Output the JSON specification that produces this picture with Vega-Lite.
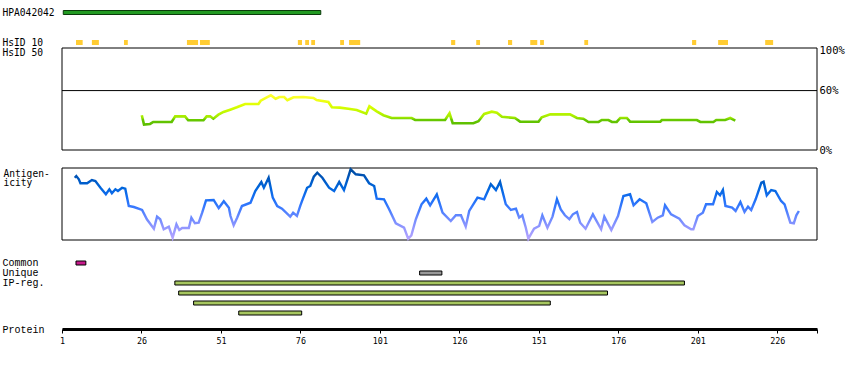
{
  "$schema": "https://vega.github.io/schema/vega-lite/v6.json",
  "width": 755,
  "height": 329,
  "autosize": {"type": "none"},
  "padding": {"left": 62, "top": 0, "right": 33, "bottom": 41},
  "config": {"view": {"stroke": null}, "font": "DejaVu Sans Mono", "axis": {"grid": false}},
  "datasets": {
    "antibody": [{"name": "HPA042042", "start": 1.4, "end": 82.4}],
    "hsid": [
      {"row": "HsID 10", "start": 5.4, "end": 7.5},
      {"row": "HsID 10", "start": 10.4, "end": 12.6},
      {"row": "HsID 10", "start": 20.5, "end": 21.7},
      {"row": "HsID 10", "start": 40.3, "end": 43.8},
      {"row": "HsID 10", "start": 44.4, "end": 47.5},
      {"row": "HsID 10", "start": 75.2, "end": 76.5},
      {"row": "HsID 10", "start": 77.5, "end": 78.7},
      {"row": "HsID 10", "start": 79.4, "end": 80.6},
      {"row": "HsID 10", "start": 88.5, "end": 89.7},
      {"row": "HsID 10", "start": 91.3, "end": 94.8},
      {"row": "HsID 10", "start": 123.4, "end": 124.7},
      {"row": "HsID 10", "start": 131.3, "end": 132.5},
      {"row": "HsID 10", "start": 141.3, "end": 142.6},
      {"row": "HsID 10", "start": 148.3, "end": 150.5},
      {"row": "HsID 10", "start": 151.4, "end": 152.6},
      {"row": "HsID 10", "start": 165.3, "end": 166.5},
      {"row": "HsID 10", "start": 199.2, "end": 200.5},
      {"row": "HsID 10", "start": 207.4, "end": 210.5},
      {"row": "HsID 10", "start": 222.2, "end": 224.7}
    ],
    "identity": [
      {"residue": 26.1, "identity": 35.1}, {"residue": 26.8, "identity": 25.6}, {"residue": 28.7, "identity": 26.3},
      {"residue": 29.7, "identity": 28.3}, {"residue": 35.5, "identity": 28.3}, {"residue": 36.6, "identity": 34.0},
      {"residue": 39.7, "identity": 34.0}, {"residue": 40.7, "identity": 30.0}, {"residue": 45.5, "identity": 30.0},
      {"residue": 46.5, "identity": 34.0}, {"residue": 47.6, "identity": 34.0}, {"residue": 48.6, "identity": 31.6},
      {"residue": 50.2, "identity": 35.7}, {"residue": 51.8, "identity": 38.4}, {"residue": 53.9, "identity": 40.7},
      {"residue": 56.0, "identity": 43.1}, {"residue": 58.6, "identity": 46.5}, {"residue": 62.8, "identity": 46.5},
      {"residue": 63.5, "identity": 49.8}, {"residue": 65.4, "identity": 53.2}, {"residue": 66.7, "identity": 55.3},
      {"residue": 68.2, "identity": 51.8}, {"residue": 69.4, "identity": 53.5}, {"residue": 70.9, "identity": 53.5},
      {"residue": 71.9, "identity": 50.2}, {"residue": 73.8, "identity": 53.2}, {"residue": 76.9, "identity": 53.5},
      {"residue": 80.1, "identity": 52.5}, {"residue": 81.1, "identity": 50.5}, {"residue": 84.8, "identity": 48.5},
      {"residue": 85.9, "identity": 43.1}, {"residue": 88.4, "identity": 42.8}, {"residue": 91.1, "identity": 41.7},
      {"residue": 93.7, "identity": 40.4}, {"residue": 96.7, "identity": 36.7}, {"residue": 97.7, "identity": 44.1},
      {"residue": 100.0, "identity": 39.1}, {"residue": 102.1, "identity": 35.1}, {"residue": 104.7, "identity": 32.3},
      {"residue": 111.0, "identity": 32.3}, {"residue": 112.1, "identity": 30.3}, {"residue": 121.5, "identity": 30.3},
      {"residue": 122.9, "identity": 37.1}, {"residue": 123.9, "identity": 27.0}, {"residue": 130.4, "identity": 27.0},
      {"residue": 132.0, "identity": 29.0}, {"residue": 133.8, "identity": 36.4}, {"residue": 136.2, "identity": 38.7},
      {"residue": 137.8, "identity": 37.7}, {"residue": 139.4, "identity": 33.6}, {"residue": 143.5, "identity": 32.3},
      {"residue": 145.1, "identity": 28.6}, {"residue": 150.9, "identity": 28.6}, {"residue": 151.9, "identity": 33.0},
      {"residue": 154.6, "identity": 36.0}, {"residue": 160.8, "identity": 36.0}, {"residue": 163.0, "identity": 32.3},
      {"residue": 165.0, "identity": 31.6}, {"residue": 166.6, "identity": 28.3}, {"residue": 169.8, "identity": 28.3},
      {"residue": 170.8, "identity": 30.3}, {"residue": 172.9, "identity": 30.3}, {"residue": 174.0, "identity": 28.3},
      {"residue": 175.5, "identity": 28.3}, {"residue": 176.6, "identity": 32.3}, {"residue": 178.7, "identity": 32.3},
      {"residue": 179.7, "identity": 28.6}, {"residue": 189.2, "identity": 28.6}, {"residue": 189.7, "identity": 30.3},
      {"residue": 200.7, "identity": 30.3}, {"residue": 201.8, "identity": 28.3}, {"residue": 205.9, "identity": 28.3},
      {"residue": 206.8, "identity": 30.3}, {"residue": 209.6, "identity": 30.3}, {"residue": 211.2, "identity": 32.3},
      {"residue": 212.8, "identity": 29.6}
    ],
    "antigenicity": [
      {"residue": 5.0, "score": 86.5}, {"residue": 5.5, "score": 88.9}, {"residue": 6.3, "score": 84.3}, {"residue": 6.8, "score": 78.8},
      {"residue": 8.9, "score": 78.8}, {"residue": 10.4, "score": 83.3}, {"residue": 11.5, "score": 81.9}, {"residue": 13.1, "score": 72.6},
      {"residue": 14.8, "score": 63.5}, {"residue": 15.9, "score": 70.4}, {"residue": 16.7, "score": 64.9}, {"residue": 17.8, "score": 70.4},
      {"residue": 18.6, "score": 68.1}, {"residue": 19.9, "score": 72.6}, {"residue": 20.9, "score": 71.3}, {"residue": 22.0, "score": 47.2},
      {"residue": 23.6, "score": 45.8}, {"residue": 26.2, "score": 41.7}, {"residue": 27.7, "score": 28.8}, {"residue": 29.9, "score": 15.7},
      {"residue": 30.9, "score": 32.4}, {"residue": 31.9, "score": 28.8}, {"residue": 33.0, "score": 14.9}, {"residue": 34.6, "score": 18.5},
      {"residue": 35.8, "score": 3.2}, {"residue": 37.0, "score": 21.8}, {"residue": 37.9, "score": 13.9}, {"residue": 38.8, "score": 16.7},
      {"residue": 40.9, "score": 16.7}, {"residue": 41.7, "score": 31.0}, {"residue": 42.8, "score": 23.2}, {"residue": 44.0, "score": 24.0},
      {"residue": 45.1, "score": 37.9}, {"residue": 46.3, "score": 55.1}, {"residue": 48.7, "score": 55.6}, {"residue": 50.3, "score": 44.4},
      {"residue": 51.9, "score": 53.8}, {"residue": 53.5, "score": 44.9}, {"residue": 54.0, "score": 33.3}, {"residue": 55.0, "score": 20.4},
      {"residue": 56.1, "score": 31.0}, {"residue": 57.6, "score": 47.2}, {"residue": 60.3, "score": 51.8}, {"residue": 61.8, "score": 68.1},
      {"residue": 63.7, "score": 80.6}, {"residue": 64.5, "score": 72.6}, {"residue": 66.0, "score": 86.5}, {"residue": 67.3, "score": 58.8},
      {"residue": 68.7, "score": 47.2}, {"residue": 70.2, "score": 43.5}, {"residue": 72.8, "score": 32.4}, {"residue": 73.7, "score": 37.9},
      {"residue": 74.9, "score": 33.3}, {"residue": 76.0, "score": 48.2}, {"residue": 76.7, "score": 56.5}, {"residue": 78.1, "score": 72.6},
      {"residue": 79.1, "score": 75.0}, {"residue": 80.2, "score": 87.9}, {"residue": 81.3, "score": 93.5}, {"residue": 82.9, "score": 86.5},
      {"residue": 85.0, "score": 72.6}, {"residue": 86.6, "score": 68.1}, {"residue": 88.2, "score": 80.6}, {"residue": 89.7, "score": 69.4},
      {"residue": 90.8, "score": 84.3}, {"residue": 91.8, "score": 98.2}, {"residue": 93.4, "score": 91.3}, {"residue": 96.0, "score": 89.9},
      {"residue": 97.6, "score": 78.8}, {"residue": 99.2, "score": 75.0}, {"residue": 100.0, "score": 57.4}, {"residue": 102.3, "score": 56.5},
      {"residue": 103.9, "score": 42.6}, {"residue": 106.0, "score": 23.2}, {"residue": 108.6, "score": 17.1}, {"residue": 109.9, "score": 1.8},
      {"residue": 110.9, "score": 6.5}, {"residue": 112.3, "score": 28.8}, {"residue": 114.1, "score": 49.6}, {"residue": 115.6, "score": 57.4},
      {"residue": 116.8, "score": 48.2}, {"residue": 118.9, "score": 63.5}, {"residue": 120.7, "score": 37.9}, {"residue": 123.3, "score": 26.4},
      {"residue": 124.9, "score": 34.3}, {"residue": 126.5, "score": 34.3}, {"residue": 128.0, "score": 18.5}, {"residue": 129.1, "score": 40.3},
      {"residue": 131.7, "score": 58.8}, {"residue": 133.8, "score": 56.5}, {"residue": 135.9, "score": 77.4}, {"residue": 137.5, "score": 69.4},
      {"residue": 138.8, "score": 80.6}, {"residue": 140.6, "score": 49.6}, {"residue": 142.2, "score": 41.7}, {"residue": 143.8, "score": 43.5},
      {"residue": 144.8, "score": 31.0}, {"residue": 145.8, "score": 34.3}, {"residue": 146.9, "score": 17.1}, {"residue": 147.7, "score": 1.8},
      {"residue": 149.5, "score": 15.7}, {"residue": 151.1, "score": 19.4}, {"residue": 152.1, "score": 34.3}, {"residue": 153.7, "score": 17.1},
      {"residue": 155.3, "score": 32.4}, {"residue": 156.7, "score": 56.5}, {"residue": 157.9, "score": 42.6}, {"residue": 159.2, "score": 34.3},
      {"residue": 160.6, "score": 28.8}, {"residue": 161.7, "score": 35.7}, {"residue": 163.0, "score": 38.9}, {"residue": 164.0, "score": 24.0},
      {"residue": 165.7, "score": 15.7}, {"residue": 168.0, "score": 35.7}, {"residue": 170.6, "score": 14.9}, {"residue": 171.6, "score": 32.4},
      {"residue": 173.8, "score": 13.9}, {"residue": 175.9, "score": 33.3}, {"residue": 177.6, "score": 61.1}, {"residue": 179.7, "score": 63.5},
      {"residue": 180.8, "score": 48.2}, {"residue": 182.7, "score": 56.5}, {"residue": 184.8, "score": 51.0}, {"residue": 186.7, "score": 25.0},
      {"residue": 188.4, "score": 31.0}, {"residue": 190.0, "score": 34.3}, {"residue": 190.7, "score": 48.2}, {"residue": 192.6, "score": 35.7},
      {"residue": 195.2, "score": 29.6}, {"residue": 196.8, "score": 20.4}, {"residue": 198.9, "score": 14.9}, {"residue": 199.6, "score": 14.9},
      {"residue": 201.0, "score": 33.3}, {"residue": 202.6, "score": 37.9}, {"residue": 203.6, "score": 49.6}, {"residue": 205.8, "score": 49.6},
      {"residue": 207.0, "score": 66.7}, {"residue": 208.0, "score": 62.1}, {"residue": 208.9, "score": 69.4}, {"residue": 209.7, "score": 47.2},
      {"residue": 211.8, "score": 44.9}, {"residue": 212.9, "score": 40.3}, {"residue": 214.4, "score": 52.8}, {"residue": 215.7, "score": 38.9},
      {"residue": 216.8, "score": 46.3}, {"residue": 217.8, "score": 41.7}, {"residue": 219.2, "score": 56.5}, {"residue": 221.0, "score": 79.6},
      {"residue": 221.7, "score": 81.0}, {"residue": 222.7, "score": 62.1}, {"residue": 224.1, "score": 69.4}, {"residue": 225.4, "score": 68.1},
      {"residue": 227.2, "score": 54.2}, {"residue": 228.3, "score": 49.6}, {"residue": 230.1, "score": 24.0}, {"residue": 231.2, "score": 23.2},
      {"residue": 232.0, "score": 34.3}, {"residue": 232.8, "score": 40.3}
    ],
    "features": [
      {"row": "Common", "kind": "Common", "start": 5.4, "end": 8.5},
      {"row": "Unique", "kind": "Unique", "start": 113.5, "end": 120.5},
      {"row": "IP-reg.", "kind": "IP-reg.", "start": 36.5, "end": 196.8},
      {"row": "IP-reg. 2", "kind": "IP-reg.", "start": 37.7, "end": 172.6},
      {"row": "IP-reg. 3", "kind": "IP-reg.", "start": 42.4, "end": 154.6},
      {"row": "IP-reg. 4", "kind": "IP-reg.", "start": 56.6, "end": 76.4}
    ]
  },
  "resolve": {"scale": {"y": "independent"}},
  "layer": [
    {
      "data": {"name": "antibody"},
      "mark": {"type": "bar", "fill": "#229a22", "stroke": "#0b3b0b", "strokeWidth": 1},
      "encoding": {
        "x": {"field": "start", "type": "quantitative", "scale": {"domain": [1, 238.5], "nice": false, "zero": false},
          "axis": {"orient": "bottom", "values": [1, 26, 51, 76, 101, 126, 151, 176, 201, 226, 238.5], "labelExpr": "datum.value > 230 ? '' : datum.label", "title": "Protein", "titleX": -60, "titleY": 0, "titleAlign": "left", "titleAnchor": "start", "titleBaseline": "middle", "titleFont": "Liberation Mono", "titleFontSize": 10, "titleFontWeight": "normal", "titleColor": "#000", "domainColor": "#000", "domainWidth": 3, "tickColor": "#000", "tickSize": 4, "tickWidth": 1, "labelFont": "DejaVu Sans Mono", "labelFontSize": 8.4, "labelColor": "#000", "labelPadding": 3, "labelFlush": false, "labelOverlap": false, "grid": false}},
        "x2": {"field": "end"},
        "y": {"field": "name", "type": "nominal", "scale": {"range": [10.5, 14.5], "paddingInner": 0, "paddingOuter": 0},
          "axis": {"orient": "left", "title": null, "ticks": false, "tickSize": 0, "domain": false, "labelAlign": "left", "labelPadding": 60, "labelFont": "DejaVu Sans Mono", "labelFontSize": 9.6, "labelColor": "#000", "labelBaseline": "middle"}}
      }
    },
    {
      "data": {"name": "hsid"},
      "mark": {"type": "bar", "fill": "#ffcc33"},
      "encoding": {
        "x": {"field": "start", "type": "quantitative", "scale": {"domain": [1, 238.5], "nice": false, "zero": false},
          "axis": {"orient": "bottom", "values": [1, 26, 51, 76, 101, 126, 151, 176, 201, 226, 238.5], "labelExpr": "datum.value > 230 ? '' : datum.label", "title": "Protein", "titleX": -60, "titleY": 0, "titleAlign": "left", "titleAnchor": "start", "titleBaseline": "middle", "titleFont": "Liberation Mono", "titleFontSize": 10, "titleFontWeight": "normal", "titleColor": "#000", "domainColor": "#000", "domainWidth": 3, "tickColor": "#000", "tickSize": 4, "tickWidth": 1, "labelFont": "DejaVu Sans Mono", "labelFontSize": 8.4, "labelColor": "#000", "labelPadding": 3, "labelFlush": false, "labelOverlap": false, "grid": false}},
        "x2": {"field": "end"},
        "y": {"field": "row", "type": "nominal", "scale": {"domain": ["HsID 10", "HsID 50"], "range": [37.5, 57.5], "paddingInner": 0.5, "paddingOuter": 0.25},
          "axis": {"orient": "left", "title": null, "ticks": false, "tickSize": 0, "domain": false, "labelAlign": "left", "labelPadding": 60, "labelFont": "DejaVu Sans Mono", "labelFontSize": 9.6, "labelColor": "#000", "labelBaseline": "middle", "labelOverlap": false}}
      }
    },
    {
      "layer": [
        {
          "data": {"values": [{}]},
          "mark": {"type": "rect", "fill": "transparent", "stroke": "#000", "strokeWidth": 1},
          "encoding": {
            "x": {"value": 0},
            "x2": {"value": "width"},
            "y": {"datum": 103, "type": "quantitative", "scale": {"domain": [0, 103], "range": [150, 48], "nice": false, "zero": false},
              "axis": {"orient": "right", "values": [0, 60, 100], "labelExpr": "datum.value + '%'", "title": null, "ticks": false, "tickSize": 0, "domain": false, "labelPadding": 2, "labelFlush": false, "labelOverlap": false, "labelFont": "DejaVu Sans Mono", "labelFontSize": 10.5, "labelColor": "#000", "labelBaseline": "middle", "grid": false}},
            "y2": {"datum": 0}
          }
        },
        {
          "data": {"values": [{}]},
          "mark": {"type": "rule", "color": "#000", "strokeWidth": 1},
          "encoding": {"y": {"datum": 60, "type": "quantitative",
            "axis": {"orient": "right", "values": [0, 60, 100], "labelExpr": "datum.value + '%'", "title": null, "ticks": false, "tickSize": 0, "domain": false, "labelPadding": 2, "labelFlush": false, "labelOverlap": false, "labelFont": "DejaVu Sans Mono", "labelFontSize": 10.5, "labelColor": "#000", "labelBaseline": "middle", "grid": false}}}
        },
        {
          "data": {"name": "identity"},
          "mark": {"type": "line", "strokeWidth": 2.6, "stroke": {"gradient": "linear", "x1": 0, "y1": 0, "x2": 0, "y2": 1, "stops": [
            {"offset": 0, "color": "#ffff33"}, {"offset": 0.15, "color": "#f2ff1a"}, {"offset": 0.35, "color": "#ddff00"},
            {"offset": 0.55, "color": "#c4fa00"}, {"offset": 0.7, "color": "#aaee00"}, {"offset": 0.77, "color": "#99e600"},
            {"offset": 0.83, "color": "#66c800"}, {"offset": 1, "color": "#5cbd00"}]}},
          "encoding": {
            "x": {"field": "residue", "type": "quantitative", "scale": {"domain": [1, 238.5], "nice": false, "zero": false},
              "axis": {"orient": "bottom", "values": [1, 26, 51, 76, 101, 126, 151, 176, 201, 226, 238.5], "labelExpr": "datum.value > 230 ? '' : datum.label", "title": "Protein", "titleX": -60, "titleY": 0, "titleAlign": "left", "titleAnchor": "start", "titleBaseline": "middle", "titleFont": "Liberation Mono", "titleFontSize": 10, "titleFontWeight": "normal", "titleColor": "#000", "domainColor": "#000", "domainWidth": 3, "tickColor": "#000", "tickSize": 4, "tickWidth": 1, "labelFont": "DejaVu Sans Mono", "labelFontSize": 8.4, "labelColor": "#000", "labelPadding": 3, "labelFlush": false, "labelOverlap": false, "grid": false}},
            "y": {"field": "identity", "type": "quantitative",
              "axis": {"orient": "right", "values": [0, 60, 100], "labelExpr": "datum.value + '%'", "title": null, "ticks": false, "tickSize": 0, "domain": false, "labelPadding": 2, "labelFlush": false, "labelOverlap": false, "labelFont": "DejaVu Sans Mono", "labelFontSize": 10.5, "labelColor": "#000", "labelBaseline": "middle", "grid": false}}
          }
        }
      ]
    },
    {
      "layer": [
        {
          "data": {"values": [{}]},
          "mark": {"type": "rect", "fill": "transparent", "stroke": "#000", "strokeWidth": 1},
          "encoding": {
            "x": {"value": 0},
            "x2": {"value": "width"},
            "y": {"datum": 100, "type": "quantitative", "scale": {"domain": [0, 100], "range": [240, 168], "nice": false, "zero": false},
              "axis": {"orient": "left", "values": [93, 80], "labelExpr": "datum.value > 90 ? 'Antigen-' : 'icity'", "title": null, "ticks": false, "tickSize": 0, "domain": false, "labelAlign": "left", "labelPadding": 59, "labelFlush": false, "labelOverlap": false, "labelFont": "DejaVu Sans Mono", "labelFontSize": 9.6, "labelColor": "#000", "labelBaseline": "middle", "grid": false}},
            "y2": {"datum": 0}
          }
        },
        {
          "data": {"name": "antigenicity"},
          "mark": {"type": "line", "strokeWidth": 2.4, "stroke": {"gradient": "linear", "x1": 0, "y1": 0, "x2": 0, "y2": 1, "stops": [
            {"offset": 0, "color": "#004c9f"}, {"offset": 0.12, "color": "#0055bb"}, {"offset": 0.27, "color": "#0066dd"},
            {"offset": 0.42, "color": "#1a6ff5"}, {"offset": 0.55, "color": "#3a7aff"}, {"offset": 0.68, "color": "#6688ff"},
            {"offset": 0.83, "color": "#9096ff"}, {"offset": 1, "color": "#b3a3ff"}]}},
          "encoding": {
            "x": {"field": "residue", "type": "quantitative", "scale": {"domain": [1, 238.5], "nice": false, "zero": false},
              "axis": {"orient": "bottom", "values": [1, 26, 51, 76, 101, 126, 151, 176, 201, 226, 238.5], "labelExpr": "datum.value > 230 ? '' : datum.label", "title": "Protein", "titleX": -60, "titleY": 0, "titleAlign": "left", "titleAnchor": "start", "titleBaseline": "middle", "titleFont": "Liberation Mono", "titleFontSize": 10, "titleFontWeight": "normal", "titleColor": "#000", "domainColor": "#000", "domainWidth": 3, "tickColor": "#000", "tickSize": 4, "tickWidth": 1, "labelFont": "DejaVu Sans Mono", "labelFontSize": 8.4, "labelColor": "#000", "labelPadding": 3, "labelFlush": false, "labelOverlap": false, "grid": false}},
            "y": {"field": "score", "type": "quantitative",
              "axis": {"orient": "left", "values": [93, 80], "labelExpr": "datum.value > 90 ? 'Antigen-' : 'icity'", "title": null, "ticks": false, "tickSize": 0, "domain": false, "labelAlign": "left", "labelPadding": 59, "labelFlush": false, "labelOverlap": false, "labelFont": "DejaVu Sans Mono", "labelFontSize": 9.6, "labelColor": "#000", "labelBaseline": "middle", "grid": false}}
          }
        }
      ]
    },
    {
      "data": {"name": "features"},
      "mark": {"type": "bar", "stroke": "#000", "strokeWidth": 1},
      "encoding": {
        "x": {"field": "start", "type": "quantitative", "scale": {"domain": [1, 238.5], "nice": false, "zero": false},
          "axis": {"orient": "bottom", "values": [1, 26, 51, 76, 101, 126, 151, 176, 201, 226, 238.5], "labelExpr": "datum.value > 230 ? '' : datum.label", "title": "Protein", "titleX": -60, "titleY": 0, "titleAlign": "left", "titleAnchor": "start", "titleBaseline": "middle", "titleFont": "Liberation Mono", "titleFontSize": 10, "titleFontWeight": "normal", "titleColor": "#000", "domainColor": "#000", "domainWidth": 3, "tickColor": "#000", "tickSize": 4, "tickWidth": 1, "labelFont": "DejaVu Sans Mono", "labelFontSize": 8.4, "labelColor": "#000", "labelPadding": 3, "labelFlush": false, "labelOverlap": false, "grid": false}},
        "x2": {"field": "end"},
        "y": {"field": "row", "type": "nominal", "scale": {"domain": ["Common", "Unique", "IP-reg.", "IP-reg. 2", "IP-reg. 3", "IP-reg. 4"], "range": [258, 318], "paddingInner": 0.6, "paddingOuter": 0.3},
          "axis": {"orient": "left", "title": null, "ticks": false, "tickSize": 0, "domain": false, "labelExpr": "indexof(datum.label, ' ') > 0 ? '' : datum.label", "labelAlign": "left", "labelPadding": 60, "labelFont": "Liberation Mono", "labelFontSize": 10, "labelColor": "#000", "labelBaseline": "middle", "labelOverlap": false}},
        "fill": {"field": "kind", "type": "nominal", "scale": {"domain": ["Common", "Unique", "IP-reg."], "range": ["#c8198c", "#999999", "#a6c65f"]}, "legend": null}
      }
    }
  ]
}
